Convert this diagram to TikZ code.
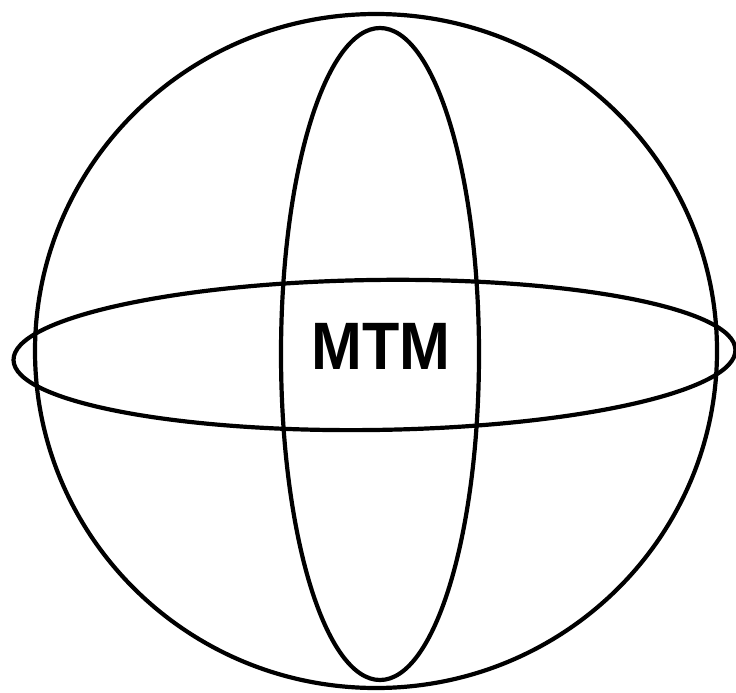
\documentclass[tikz,border=0pt]{standalone}
\usepackage{graphicx}
\usepackage{fontspec}
\newfontfamily\labelfont{Liberation Sans}
\tikzstyle{ring}=[line width=4.2pt, black]
\tikzstyle{tag}=[inner sep=0pt, font=\labelfont\bfseries\fontsize{61}{61}\selectfont]

\begin{document}
\begin{tikzpicture}[x=1pt, y=-1pt]
    \useasboundingbox (0,0) rectangle (736,693);
    \coordinate (c0) at (376,351);
    \coordinate (c1) at (380,354);
    \coordinate (c2) at (374.5,355);
    \draw[ring] (c0) ellipse [x radius=341, y radius=337];
    \draw[ring] (c1) ellipse [x radius=99, y radius=326];
    \draw[ring, rotate around={0.8:(c2)}] (c2) ellipse [x radius=361, y radius=75];
    \node[tag] (mtm) at (381,346) {\scalebox{1}[1.1]{MTM}};
\end{tikzpicture}
\end{document}
